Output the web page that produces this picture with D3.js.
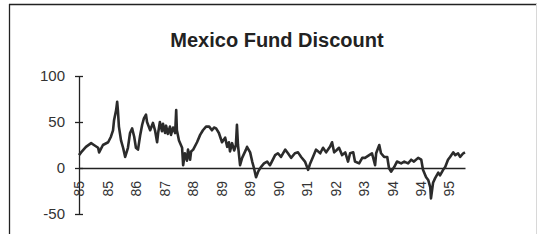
<!DOCTYPE html>
<html>
<head>
<meta charset="utf-8">
<script src="https://cdn.jsdelivr.net/npm/d3@7"></script>
<style>
  body { margin: 0; background: #fff; }
  svg { display: block; font-family: "Liberation Sans", Arial, sans-serif; }
</style>
</head>
<body>
<div id="chart"></div>
<script>
// Mexico Fund discount (%), time in decimal years
var years = [
  1985.00, 1985.06, 1985.20, 1985.35, 1985.43, 1985.55, 1985.58, 1985.69, 1985.84, 1985.92,
  1985.98, 1986.01, 1986.07, 1986.10, 1986.12, 1986.15, 1986.21, 1986.27, 1986.33, 1986.41,
  1986.47, 1986.53, 1986.59, 1986.64, 1986.70, 1986.76, 1986.82, 1986.87, 1986.93, 1986.96,
  1987.05, 1987.13, 1987.19, 1987.25, 1987.28, 1987.33, 1987.39, 1987.42, 1987.48, 1987.51,
  1987.56, 1987.62, 1987.65, 1987.71, 1987.77, 1987.80, 1987.82, 1987.88, 1987.97, 1988.00,
  1988.05, 1988.11, 1988.14, 1988.20, 1988.23, 1988.29, 1988.40, 1988.49, 1988.57, 1988.66,
  1988.75, 1988.83, 1988.89, 1988.95, 1989.03, 1989.12, 1989.21, 1989.27, 1989.32, 1989.35,
  1989.41, 1989.47, 1989.52, 1989.55, 1989.58, 1989.64, 1989.70, 1989.81, 1989.84, 1989.93,
  1989.99, 1990.04, 1990.10, 1990.16, 1990.24, 1990.33, 1990.42, 1990.50, 1990.53, 1990.65,
  1990.73, 1990.82, 1990.94, 1991.02, 1991.11, 1991.22, 1991.31, 1991.40, 1991.51, 1991.60,
  1991.66, 1991.74, 1991.83, 1991.95, 1992.03, 1992.12, 1992.23, 1992.29, 1992.35, 1992.41,
  1992.49, 1992.58, 1992.67, 1992.75, 1992.81, 1992.90, 1992.95, 1993.07, 1993.16, 1993.24,
  1993.36, 1993.44, 1993.53, 1993.56, 1993.65, 1993.70, 1993.79, 1993.88, 1993.93, 1993.99,
  1994.08, 1994.16, 1994.28, 1994.37, 1994.48, 1994.57, 1994.65, 1994.77, 1994.86, 1994.91,
  1995.00, 1995.06, 1995.12, 1995.14, 1995.20, 1995.26, 1995.35, 1995.40, 1995.49, 1995.55,
  1995.63, 1995.69, 1995.78, 1995.84, 1995.92, 1995.98, 1996.07, 1996.12
];
var discount = [
  14, 17, 23, 27, 25, 22, 17, 25, 28, 34,
  41, 52, 63, 72, 63, 45, 30, 22, 12, 22,
  38, 43, 34, 22, 20, 35, 47, 54, 58, 50,
  41, 49, 41, 28, 38, 50, 40, 48, 38, 46,
  37, 45, 36, 44, 38, 63, 41, 30, 22, 3,
  16, 8, 20, 9, 18, 20, 28, 36, 41, 45,
  45, 41, 44, 43, 38, 28, 33, 23, 28, 18,
  27, 19, 25, 47, 25, 3, 11, 20, 23, 17,
  7, 0, -10, -4, 1, 5, 7, 3, 5, 14,
  16, 12, 20, 16, 11, 16, 17, 12, 7, -2,
  5, 12, 20, 16, 22, 17, 23, 28, 17, 19,
  22, 14, 17, 7, 16, 17, 7, 5, 11, 11,
  14, 16, 3, 16, 25, 16, 12, 12, 0, -4,
  1, 7, 5, 7, 5, 9, 7, 11, 9, -2,
  -10, -13, -21, -33, -16, -11, -5, -8, -2, 1,
  9, 12, 17, 14, 16, 12, 16, 17
];

// Excel style category labels, one every ~0.82 year
var tickYears = [1985.00, 1985.82, 1986.64, 1987.46, 1988.28, 1989.10, 1989.92,
                 1990.74, 1991.56, 1992.38, 1993.20, 1994.02, 1994.84, 1995.66];
var tickLabels = ["85", "85", "86", "87", "88", "89", "89",
                  "90", "91", "92", "93", "94", "94", "95"];
var yTicks = [-50, 0, 50, 100];

var width = 538, height = 243;

var svg = d3.select("#chart").append("svg")
    .attr("width", width)
    .attr("height", height);

// frame
svg.append("line").attr("x1", 9).attr("x2", 537).attr("y1", 4.5).attr("y2", 4.5)
    .attr("stroke", "#222").attr("stroke-width", 1.6);
svg.append("line").attr("x1", 9.5).attr("x2", 9.5).attr("y1", 4).attr("y2", 234)
    .attr("stroke", "#222").attr("stroke-width", 1.3);
svg.append("line").attr("x1", 536.5).attr("x2", 536.5).attr("y1", 4).attr("y2", 234)
    .attr("stroke", "#d8d8d8").attr("stroke-width", 1);

svg.append("text")
    .attr("x", 277)
    .attr("y", 47)
    .attr("text-anchor", "middle")
    .attr("font-size", "20px")
    .attr("font-weight", "bold")
    .attr("fill", "#222")
    .text("Mexico Fund Discount");

var x = d3.scaleLinear().domain([1985, 1996.12]).range([79, 465]);
var y = d3.scaleLinear().domain([-50, 100]).range([214, 76]);

// y axis, ticks cross the axis line
var yAxis = svg.append("g")
    .attr("transform", "translate(79,0)")
    .call(d3.axisLeft(y).tickValues(yTicks).tickSizeInner(4).tickSizeOuter(0).tickPadding(10)
        .tickFormat(function(d) { return String(d); }));
yAxis.select(".domain").attr("stroke", "#222").attr("stroke-width", 1.3);
yAxis.selectAll(".tick line").attr("x1", -4).attr("x2", 4)
    .attr("stroke", "#222").attr("stroke-width", 1.3);
yAxis.selectAll(".tick text")
    .attr("font-size", "15px")
    .attr("font-family", "Liberation Sans, Arial, sans-serif")
    .attr("fill", "#333");

// x axis at zero, rotated category labels
var xAxis = svg.append("g")
    .attr("transform", "translate(0," + y(0) + ")")
    .call(d3.axisBottom(x).tickValues(tickYears).tickSize(0).tickSizeOuter(0)
        .tickFormat(function(d, i) { return tickLabels[i]; }));
xAxis.select(".domain").attr("stroke", "#222").attr("stroke-width", 1.3);
xAxis.selectAll(".tick text")
    .attr("font-size", "14px")
    .attr("font-family", "Liberation Sans, Arial, sans-serif")
    .attr("fill", "#333")
    .attr("text-anchor", "end")
    .attr("transform", "rotate(-90)")
    .attr("x", -13)
    .attr("y", 0)
    .attr("dy", "0.35em");

var line = d3.line()
    .x(function(d, i) { return x(years[i]); })
    .y(function(d) { return y(d); });

svg.append("path")
    .datum(discount)
    .attr("d", line)
    .attr("fill", "none")
    .attr("stroke", "#2b2b2b")
    .attr("stroke-width", 2.6)
    .attr("stroke-linejoin", "round");
</script>
</body>
</html>
